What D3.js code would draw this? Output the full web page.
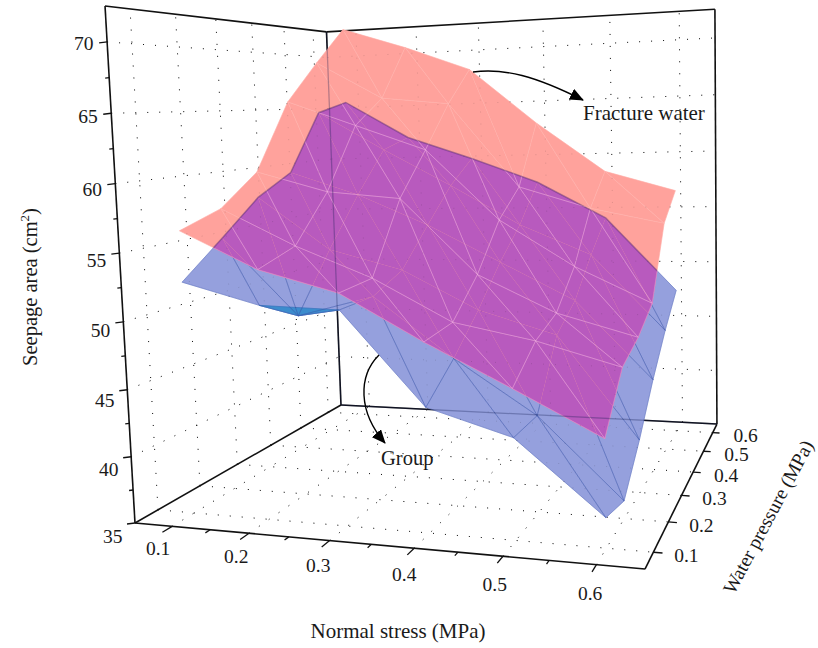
<!DOCTYPE html>
<html>
<head>
<meta charset="utf-8">
<script src="https://cdn.jsdelivr.net/npm/d3@7"></script>
<style>
body { margin: 0; background: #fff; }
text { font-family: "Liberation Serif", serif; font-size: 20.5px; fill: #1a1a1a; }
text.tick { font-size: 19.5px; }
</style>
</head>
<body>
<div id="graph"></div>
<script>
// chart values, rows are water pressure, columns are normal stress
var normalStress = [0.1, 0.2, 0.3, 0.4, 0.5, 0.6];
var waterPressure = [0.1, 0.2, 0.3, 0.4, 0.5, 0.6];
var stressMinor = [0.15, 0.25, 0.35, 0.45, 0.55];
var areaTicks = [35, 40, 45, 50, 55, 60, 65, 70];
var areaMinor = [37.5, 42.5, 47.5, 52.5, 57.5, 62.5, 67.5];
var fractureWater = [
  [56.3, 53.5, 51.9, 48.6, 45.6, 42.5],
  [57.4, 54.5, 52.1, 48.9, 47.7, 46.0],
  [59.9, 58.2, 57.6, 51.6, 48.7, 47.0],
  [65.6, 63.4, 61.2, 55.3, 51.5, 48.6],
  [69.1, 65.7, 65.0, 57.6, 55.7, 54.4],
  [72.4, 70.4, 68.1, 63.0, 58.5, 56.7]
];
var group = [
  [52.5, 50.9, 50.7, 44.0, 42.2, 37.1],
  [55.1, 49.1, 50.7, 46.2, 42.2, 36.3],
  [57.8, 53.5, 51.9, 48.8, 47.0, 39.1],
  [59.5, 57.5, 54.9, 51.8, 48.7, 42.4],
  [64.6, 61.1, 57.8, 54.3, 51.7, 45.3],
  [65.5, 62.0, 59.9, 57.6, 54.3, 47.8]
];

// the scales map data to the unit box
var u = d3.scaleLinear().domain([0.05, 0.65]).range([0, 1]);
var v = d3.scaleLinear().domain([0.05, 0.65]).range([0, 1]);
var w = d3.scaleLinear().domain([35, 72.5]).range([0, 1]);

// perspective camera fitted to the corners of the box
function project(a, b, c) {
  var d = 1 - 0.1361 * a + 0.3825 * b - 0.045 * c;
  return [
    (135 + 422.2 * a + 336.4 * b - 34.7 * c) / d,
    (523 - 31.4 * a + 36.9 * b - 517.3 * c) / d
  ];
}
var line = d3.line();

var svg = d3.select("#graph").append("svg")
  .attr("width", 818)
  .attr("height", 648);

function seg(g, a, b) {
  return g.append("path").attr("d", line([project.apply(null, a), project.apply(null, b)]));
}

// dotted grid on the floor and the two back walls
function drawGrid(opacity) {
  var g = svg.append("g")
    .attr("fill", "none")
    .attr("stroke", "#111")
    .attr("stroke-width", 1)
    .attr("stroke-dasharray", "1 11")
    .attr("opacity", opacity);
  areaTicks.slice(1).forEach(function(z) {
    seg(g, [0, 0, w(z)], [0, 1, w(z)]);
    seg(g, [0, 1, w(z)], [1, 1, w(z)]);
  });
  normalStress.forEach(function(s) {
    seg(g, [u(s), 1, 0], [u(s), 1, 1]);
    seg(g, [u(s), 0, 0], [u(s), 1, 0]);
  });
  waterPressure.forEach(function(p) {
    seg(g, [0, v(p), 0], [0, v(p), 1]);
    seg(g, [0, v(p), 0], [1, v(p), 0]);
  });
}
drawGrid(1);

// box edges
var box = svg.append("g")
  .attr("fill", "none")
  .attr("stroke", "#111")
  .attr("stroke-width", 1.6);
seg(box, [0, 0, 0], [1, 0, 0]);
seg(box, [1, 0, 0], [1, 1, 0]);
seg(box, [0, 0, 0], [0, 1, 0]);
seg(box, [0, 1, 0], [1, 1, 0]);
seg(box, [0, 0, 0], [0, 0, 1]);
seg(box, [0, 1, 0], [0, 1, 1]);
seg(box, [1, 1, 0], [1, 1, 1]);
seg(box, [0, 0, 1], [0, 1, 1]);
seg(box, [0, 1, 1], [1, 1, 1]);

function vertex(values, i, j) {
  return project(u(normalStress[i]), v(waterPressure[j]), w(values[j][i]));
}
// turn a grid of values into projected triangles
function triangles(values) {
  var out = [];
  for (var j = 0; j < 5; j++) {
    for (var i = 0; i < 5; i++) {
      out.push([vertex(values, i, j), vertex(values, i + 1, j), vertex(values, i, j + 1)]);
      out.push([vertex(values, i + 1, j + 1), vertex(values, i, j + 1), vertex(values, i + 1, j)]);
    }
  }
  return out;
}
function closed(d) { return line(d) + "Z"; }
// triangles turned away from the viewer have a positive cross product on screen
function backFacing(d) {
  return (d[1][0] - d[0][0]) * (d[2][1] - d[0][1]) - (d[1][1] - d[0][1]) * (d[2][0] - d[0][0]) > 0;
}
function fillMesh(parent, tris, color) {
  parent.selectAll(null).data(tris).enter().append("path")
    .attr("d", closed)
    .attr("fill", color)
    .attr("stroke", color)
    .attr("stroke-width", 0.6)
    .attr("stroke-linejoin", "round");
}
function wireMesh(parent, tris, color, width) {
  parent.selectAll(null).data(tris).enter().append("path")
    .attr("d", closed)
    .attr("fill", "none")
    .attr("stroke", color)
    .attr("stroke-width", width);
}

var pinkTris = triangles(fractureWater);
var blueTris = triangles(group);

var defs = svg.append("defs");
defs.append("clipPath").attr("id", "blue-clip")
  .selectAll("path").data(blueTris).enter().append("path").attr("d", closed);
defs.append("clipPath").attr("id", "pink-clip")
  .selectAll("path").data(pinkTris).enter().append("path").attr("d", closed);

// group surface, folded part comes out darker
var blue = svg.append("g");
fillMesh(blue, blueTris, "#95a0dd");
fillMesh(blue, blueTris.filter(backFacing), "#3c8ccd");
wireMesh(blue, blueTris, "rgba(62,88,170,0.33)", 1);

// fracture water surface
var pink = svg.append("g");
fillMesh(pink, pinkTris, "#ffa29c");
wireMesh(pink, pinkTris, "rgba(255,255,255,0.06)", 1);

// overlap of the two surfaces
var overlap = svg.append("g").attr("clip-path", "url(#blue-clip)");
fillMesh(overlap, pinkTris, "#b85abe");
wireMesh(overlap, pinkTris, "rgba(255,195,235,0.24)", 1);

// darker rim where the back of the group surface meets the pink
var rimPoints = d3.range(6).map(function(j) { return vertex(group, 0, j); })
  .concat(d3.range(1, 6).map(function(i) { return vertex(group, i, 5); }));
svg.append("path")
  .attr("clip-path", "url(#pink-clip)")
  .attr("d", line(rimPoints))
  .attr("fill", "none")
  .attr("stroke", "rgba(80,40,110,0.45)")
  .attr("stroke-width", 1.5);

// things behind the surfaces show through a little
drawGrid(0.14);
var through = svg.append("g")
  .attr("fill", "none")
  .attr("stroke", "#101a50")
  .attr("stroke-width", 1.3)
  .attr("opacity", 0.3);
seg(through, [0, 1, 0], [1, 1, 0]);
seg(through, [0, 1, 0], [0, 1, 1]);

// ticks
var ticks = svg.append("g")
  .attr("fill", "none")
  .attr("stroke", "#111")
  .attr("stroke-width", 1.3);
areaTicks.forEach(function(z) {
  var p = project(0, 0, w(z));
  ticks.append("path").attr("d", line([p, [p[0] - 8, p[1] + 1]]));
});
areaMinor.forEach(function(z) {
  var p = project(0, 0, w(z));
  ticks.append("path").attr("d", line([p, [p[0] - 4, p[1] + 0.5]]));
});
normalStress.forEach(function(s) { seg(ticks, [u(s), 0, 0], [u(s), -0.035, 0]); });
stressMinor.forEach(function(s) { seg(ticks, [u(s), 0, 0], [u(s), -0.018, 0]); });
waterPressure.forEach(function(p) { seg(ticks, [1, v(p), 0], [1.016, v(p), 0]); });

// tick labels
areaTicks.forEach(function(z) {
  var p = project(0, -0.04, w(z));
  svg.append("text")
    .attr("class", "tick")
    .attr("x", p[0] - 1)
    .attr("y", p[1] + 2 + 5 * (1 - w(z)))
    .attr("dy", "0.35em")
    .attr("text-anchor", "end")
    .text(z);
});
normalStress.forEach(function(s) {
  var p = project(u(s), -0.05, 0);
  svg.append("text")
    .attr("class", "tick")
    .attr("x", p[0])
    .attr("y", p[1] + 13 + 6 * u(s))
    .attr("dy", "0.35em")
    .attr("text-anchor", "middle")
    .text(d3.format(".1f")(s));
});
waterPressure.forEach(function(t) {
  var p = project(1, v(t), 0);
  svg.append("text")
    .attr("class", "tick")
    .attr("x", p[0] + 33)
    .attr("y", p[1] + 3)
    .attr("dy", "0.35em")
    .attr("text-anchor", "middle")
    .text(d3.format(".1f")(t));
});

// axis titles
var yTitle = svg.append("text")
  .attr("transform", "translate(37,287) rotate(-90)")
  .attr("text-anchor", "middle");
yTitle.append("tspan").text("Seepage area (cm");
yTitle.append("tspan").attr("dy", -8).style("font-size", "13px").text("2");
yTitle.append("tspan").attr("dy", 8).text(")");
svg.append("text")
  .attr("x", 398).attr("y", 638)
  .attr("text-anchor", "middle")
  .style("font-size", "21px")
  .text("Normal stress (MPa)");
svg.append("text")
  .attr("transform", "translate(774,520) rotate(-62)")
  .attr("text-anchor", "middle")
  .style("font-size", "19.5px")
  .text("Water pressure (MPa)");

// annotations
svg.append("text").attr("x", 583).attr("y", 120).style("font-size", "21px").text("Fracture water");
svg.append("text").attr("x", 381).attr("y", 465).text("Group");

var marker = defs.append("marker")
  .attr("id", "head")
  .attr("viewBox", "0 0 14 12")
  .attr("refX", 13)
  .attr("refY", 6)
  .attr("markerWidth", 14)
  .attr("markerHeight", 12)
  .attr("markerUnits", "userSpaceOnUse")
  .attr("orient", "auto");
marker.append("path").attr("d", "M0,0L14,6L0,12Z").attr("fill", "#000");

svg.append("path")
  .attr("d", "M473,72C505,68 535,76 583,100")
  .attr("fill", "none").attr("stroke", "#000").attr("stroke-width", 1.4)
  .attr("marker-end", "url(#head)");
svg.append("path")
  .attr("d", "M379,355C358,376 358,412 385,443")
  .attr("fill", "none").attr("stroke", "#000").attr("stroke-width", 1.4)
  .attr("marker-end", "url(#head)");
</script>
</body>
</html>
